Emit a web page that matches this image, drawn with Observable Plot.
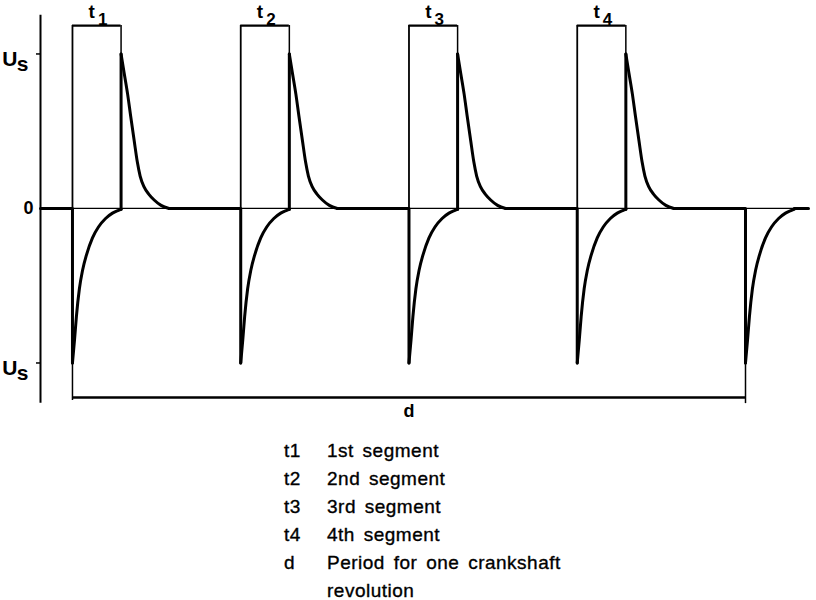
<!DOCTYPE html>
<html>
<head>
<meta charset="utf-8">
<script src="https://cdn.jsdelivr.net/npm/d3@7"></script>
<script src="https://cdn.jsdelivr.net/npm/@observablehq/plot@0.6"></script>
<style>
  html, body { margin: 0; background: #fff; }
  #chart svg { display: block; }
  #legend {
    display: grid;
    grid-template-columns: 43px 275px;
    margin: 7px 0 0 284px;
    font: 19px "Liberation Sans", Arial, Helvetica, sans-serif;
    line-height: 28px;
    letter-spacing: 0.5px;
    word-spacing: 3px;
    -webkit-text-stroke: 0.35px #000;
    color: #000;
  }
</style>
</head>
<body>
<div id="chart"></div>
<div id="legend"></div>
<script>
// Ignition signal over one crankshaft revolution (crank angle, d = 360).
const segmentStarts = [0, 90, 180, 270];   // start of segments t1..t4
const segmentNames = ["1", "2", "3", "4"];
const segmentLength = 26;                  // width of each segment
const finalDrop = 360;                     // start of the next revolution

// Negative pulse after each segment start, relative to the start (value in Us)
const recoveryOffset = [0, 1.1, 2.1, 3.7, 5.4, 7.5, 10.7, 13.9, 17.7, 21.4, 24.6, 26];
const recoveryValue = [-1, -0.85, -0.7, -0.52, -0.4, -0.3, -0.19, -0.12, -0.065, -0.03, -0.012, -0.005];

// Positive pulse after each segment end, relative to the end (value in Us)
const decayOffset = [0, 1.6, 3.5, 5.1, 7, 8.7, 10.2, 12.3, 15, 17.7, 21.4, 25.7];
const decayValue = [1, 0.88, 0.74, 0.6, 0.44, 0.3, 0.21, 0.14, 0.09, 0.055, 0.02, 0];

// Y axis tick values and their labels
const yTickValues = [1, -1];
const yTickMain = ["U", "U"];
const yTickSub = ["s", "s"];
const zeroLabel = "0";
const periodLabel = "d";

// Legend entries
const legendCodes = ["t1", "t2", "t3", "t4", "d"];
const legendLabels = ["1st segment", "2nd segment", "3rd segment", "4th segment", "Period for one crankshaft revolution"];

// Frame of the drawing
const xDomain = [-17.1, 393.7];
const yDomain = [-1.437, 1.346];
const axisTop = 1.25, axisBottom = -1.26;
const bracketLevel = 1.184;   // t brackets above the pulses
const periodLevel = -1.223;   // d bracket below the pulses
const labelLevel = 1.275;

const xMin = xDomain[0], xMax = xDomain[1];
const segmentEnds = segmentStarts.map(s => s + segmentLength);

// Build the signal: straight pieces (baseline, drops, rises) and curved pieces (pulses)
const straight = [];
const curved = [];
let resume = xMin;
[...segmentStarts, finalDrop].forEach((s, i) => {
  straight.push({x: resume, y: 0, z: "f" + i}, {x: s, y: 0, z: "f" + i}, {x: s, y: -1, z: "f" + i});
  recoveryOffset.forEach((o, j) => curved.push({x: s + o, y: recoveryValue[j], z: "r" + i}));
  if (i < segmentStarts.length) {
    const e = segmentEnds[i];
    straight.push({x: e, y: recoveryValue[recoveryValue.length - 1], z: "u" + i}, {x: e, y: 1, z: "u" + i});
    decayOffset.forEach((o, j) => curved.push({x: e + o, y: decayValue[j], z: "d" + i}));
    resume = e + decayOffset[decayOffset.length - 1];
  } else {
    resume = s + recoveryOffset[recoveryOffset.length - 1];
  }
});
straight.push({x: resume, y: 0, z: "tail"}, {x: xMax, y: 0, z: "tail"});

const font = "'Liberation Sans', Arial, Helvetica, sans-serif";

const chart = Plot.plot({
  width: 816,
  height: 430,
  marginLeft: 40,
  marginRight: 8,
  marginTop: 0,
  marginBottom: 0,
  style: {fontFamily: font, color: "#000", background: "#fff"},
  x: {domain: xDomain, axis: null},
  y: {domain: yDomain},
  marks: [
    // thin reference lines
    Plot.ruleY([0], {x1: xMin, x2: xMax, strokeWidth: 1.3}),
    Plot.ruleX([xMin], {y1: axisTop, y2: axisBottom, strokeWidth: 2}),
    Plot.axisY({ticks: yTickValues, tickSize: 4, tickFormat: () => "", label: null, strokeWidth: 1.5}),
    Plot.ruleX(segmentStarts, {y1: bracketLevel, y2: 0, strokeWidth: 1.8}),
    Plot.ruleX([segmentStarts[0]], {y1: -1, y2: periodLevel - 0.02, strokeWidth: 1.5}),
    Plot.ruleX([finalDrop], {y1: 0, y2: periodLevel - 0.04, strokeWidth: 1.5}),
    Plot.ruleX(segmentEnds, {y1: bracketLevel, y2: 1, strokeWidth: 1.5}),
    // t brackets and d bracket
    Plot.ruleY(segmentStarts, {y: bracketLevel, x1: d => d, x2: d => d + segmentLength, strokeWidth: 2.2}),
    Plot.ruleY([periodLevel], {x1: segmentStarts[0], x2: finalDrop, strokeWidth: 2.6}),
    // the signal
    Plot.line(straight, {x: "x", y: "y", z: "z", stroke: "#000", strokeWidth: 3, strokeLinejoin: "round", strokeLinecap: "round"}),
    Plot.line(curved, {x: "x", y: "y", z: "z", stroke: "#000", strokeWidth: 3, curve: "monotone-x", strokeLinecap: "round"}),
    // labels
    Plot.text(segmentStarts, {x: d => d + segmentLength / 2, y: labelLevel, text: () => "t", dx: -5, fontSize: 19, fontWeight: "bold"}),
    Plot.text(segmentStarts, {x: d => d + segmentLength / 2, y: labelLevel, text: (d, i) => segmentNames[i], dx: 6, dy: 8, fontSize: 17, fontWeight: "bold"}),
    Plot.text(yTickValues, {x: xMin, y: d => d, text: (d, i) => yTickMain[i], dx: -23, dy: 5, textAnchor: "end", fontSize: 21, fontWeight: "bold"}),
    Plot.text(yTickValues, {x: xMin, y: d => d, text: (d, i) => yTickSub[i], dx: -12, dy: 10, textAnchor: "end", fontSize: 21, fontWeight: "bold"}),
    Plot.text([0], {x: xMin, y: d => d, text: () => zeroLabel, dx: -7, textAnchor: "end", fontSize: 18, fontWeight: "bold"}),
    Plot.text([periodLabel], {x: (segmentStarts[0] + finalDrop) / 2, y: -1.314, text: d => d, fontSize: 18, fontWeight: "bold"})
  ]
});
document.getElementById("chart").append(chart);

const legend = document.getElementById("legend");
legendCodes.forEach((c, i) => {
  const a = document.createElement("div");
  a.textContent = c;
  const b = document.createElement("div");
  b.textContent = legendLabels[i];
  legend.append(a, b);
});
</script>
</body>
</html>
